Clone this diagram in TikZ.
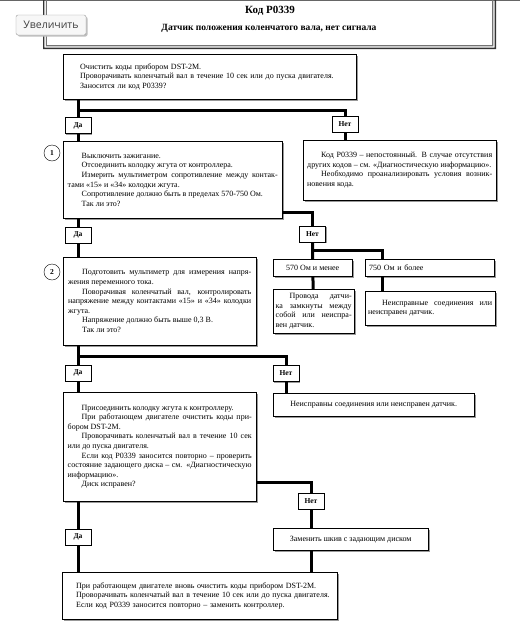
\documentclass[tikz,border=0pt]{standalone}
\usepackage{fontspec}
\setmainfont{Liberation Serif}
\newfontfamily\uifont{Open Sans}
\usepackage{tikz}
\usetikzlibrary{shadows}
\tikzstyle{box}=[rectangle, draw=black, fill=white, inner sep=0pt,
                 anchor=north west, font=\fontsize{8}{9.6}\selectfont,
                 drop shadow={shadow xshift=1.5pt, shadow yshift=-1.5pt,
                 fill=black!40, opacity=1}]
\tikzstyle{yesno}=[rectangle, draw=black, fill=white, inner sep=0pt,
                   minimum width=26pt, minimum height=16pt,
                   font=\bfseries\fontsize{7.5}{8}\selectfont,
                   drop shadow={shadow xshift=1pt, shadow yshift=-1pt,
                   fill=black!40, opacity=1}]
\tikzstyle{num}=[circle, draw=black, minimum size=16pt, inner sep=0pt,
                 font=\bfseries\fontsize{7.5}{8}\selectfont]
\tikzstyle{conn}=[line width=3pt]
\newcommand{\pind}{\noindent\hspace*{14pt}}

\begin{document}
\begin{tikzpicture}[x=1pt, y=-1pt]
    \useasboundingbox (0,0) rectangle (520,635);
    % header
    \fill[black!60] (0,0) rectangle (520,1.2);
    \fill[black!80] (43,0) rectangle (44.3,49)
                    (43,47.7) rectangle (496,49)
                    (494.7,0) rectangle (496,49);
    \fill[black!55] (45.8,0) rectangle (46.9,46.3)
                    (45.8,45.2) rectangle (493.3,46.3)
                    (492.2,0) rectangle (493.3,46.3);
    \node[font=\bfseries\fontsize{11}{12}\selectfont] (title) at (270,11)
        {Код P0339};
    \node[font=\bfseries\fontsize{9.5}{11}\selectfont] (sub) at (269,28)
        {Датчик положения коленчатого вала, нет сигнала};
    \node[rectangle, rounded corners=2pt, draw=black!40, fill=black!3,
          minimum width=70pt, minimum height=20pt, inner sep=0pt,
          text=black!75, font=\uifont\fontsize{10.5}{12}\selectfont,
          drop shadow={shadow xshift=1.5pt, shadow yshift=-1.5pt,
          fill=black!25, opacity=1}] (zoom) at (51,25) {Увеличить};

    % boxes
    \node[box, minimum width=293pt, minimum height=45pt, text width=275pt,
          align=left] (b0) at (63,54)
        {\hspace*{8pt}Очистить коды прибором DST-2M.\\
         \hspace*{8pt}Проворачивать коленчатый вал в течение 10 сек или до пуска двигателя.\\
         \hspace*{8pt}Заносится ли код P0339?};
    \node[yesno] (da1) at (78,125.5) {Да};
    \node[yesno] (net1) at (345,124) {Нет};
    \node[box, minimum width=193pt, minimum height=60pt, text width=185pt,
          align=justify] (r1) at (303,140)
        {\pind Код P0339 -- непостоянный. В случае отсутствия\linebreak
         других кодов -- см. «Диагностическую информацию».\par
         \pind Необходимо проанализировать условия возник-\linebreak
         новения кода.};
    \node[box, minimum width=219pt, minimum height=77pt, text width=210pt,
          align=justify] (b1) at (63,141)
        {\pind Выключить зажигание.\par
         \pind Отсоединить колодку жгута от контроллера.\par
         \pind Измерить мультиметром сопротивление между контак-\linebreak
         тами «15» и «34» колодки жгута.\par
         \pind Сопротивление должно быть в пределах 570-750 Ом.\par
         \pind Так ли это?};
    \node[num] (c1) at (52,153) {1};
    \node[yesno] (da2) at (78,235) {Да};
    \node[yesno] (net2) at (312.5,234) {Нет};
    \node[box, minimum width=193pt, minimum height=88pt, text width=183pt,
          align=justify] (b2) at (63,257)
        {\pind Подготовить мультиметр для измерения напря-\linebreak
         жения переменного тока.\par
         \pind Поворачивая коленчатый вал, контролировать\linebreak
         напряжение между контактами «15» и «34» колодки\linebreak
         жгута.\par
         \pind Напряжение должно быть выше 0,3 В.\par
         \pind Так ли это?};
    \node[num] (c2) at (52,272) {2};
    \node[box, minimum width=79pt, minimum height=17pt] (lo) at (273,259)
        {570 Ом и менее};
    \node[box, minimum width=129pt, minimum height=17pt, text width=121pt,
          align=left] (hi) at (365,259) {750 Ом и более};
    \node[box, minimum width=81pt, minimum height=44pt, text width=76pt,
          align=justify] (lo2) at (273,289)
        {\pind Провода датчи-\linebreak ка замкнуты между\linebreak
         собой или неиспра-\linebreak вен датчик.};
    \node[box, minimum width=130pt, minimum height=34pt, text width=124pt,
          align=justify] (hi2) at (365,291)
        {\pind Неисправные соединения или\linebreak неисправен датчик.};
    \node[yesno] (da3) at (78,373) {Да};
    \node[yesno] (net3) at (286,373.5) {Нет};
    \node[box, minimum width=193pt, minimum height=109pt, text width=184pt,
          align=justify] (b3) at (63,392)
        {\pind Присоединить колодку жгута к контроллеру.\par
         \pind При работающем двигателе очистить коды при-\linebreak
         бором DST-2M.\par
         \pind Проворачивать коленчатый вал в течение 10 сек\linebreak
         или до пуска двигателя.\par
         \pind Если код P0339 заносится повторно -- проверить\linebreak
         состояние задающего диска -- см. «Диагностическую\linebreak
         информацию».\par
         \pind Диск исправен?};
    \node[box, minimum width=201pt, minimum height=23pt] (r3) at (273,393)
        {Неисправны соединения или неисправен датчик.};
    \node[yesno] (net4) at (311,501) {Нет};
    \node[box, minimum width=155pt, minimum height=22pt] (r4) at (273,528)
        {Заменить шкив с задающим диском};
    \node[yesno] (da4) at (78,537) {Да};
    \node[box, minimum width=275pt, minimum height=47pt, text width=269pt,
          align=left] (b4) at (62,572)
        {\hspace*{11pt}При работающем двигателе вновь очистить коды прибором DST-2M.\\
         \hspace*{11pt}Проворачивать коленчатый вал в течение 10 сек или до пуска двигателя.\\
         \hspace*{11pt}Если код P0339 заносится повторно -- заменить контроллер.};

    % connectors
    \coordinate (j1) at (78,110);
    \coordinate (j2) at (312.5,212);
    \coordinate (j3) at (312.5,250);
    \coordinate (j6) at (382,250);
    \coordinate (j4) at (78,356);
    \coordinate (j5) at (311,482);
    \foreach \from/\to in {b0.south -| j1/da1, da1/b1.north -| da1,
          net1/r1.north -| net1, b1.south -| da2/da2, da2/b2.north -| da2,
          net2/lo, lo/lo2, b2.south -| da3/da3, da3/b3.north -| da3,
          net3/r3.north -| net3, net4/r4.north -| net4,
          r4.south -| net4/b4.north -| net4, b3.south -| da4/da4,
          da4/b4.north -| da4, hi.south -| j6/hi2.north -| j6}
      \draw[conn] (\from) -- (\to);
    \draw[conn] (j1) -| (net1);
    \draw[conn] (b1.east |- j2) -| (net2);
    \draw[conn] (j3) -- (j6) -- (hi.north -| j6);
    \draw[conn] (j4) -| (net3);
    \draw[conn] (b3.east |- j5) -| (net4);
\end{tikzpicture}
\end{document}
